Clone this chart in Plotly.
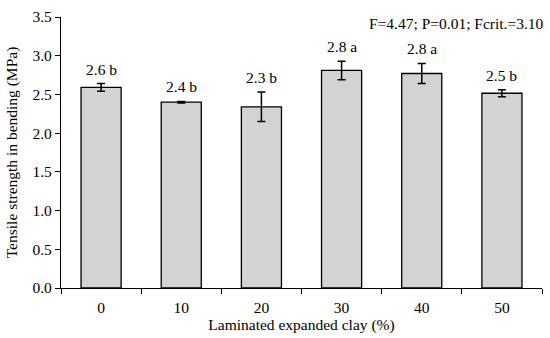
import plotly.graph_objects as go

categories = ["0", "10", "20", "30", "40", "50"]
means = [2.59, 2.40, 2.34, 2.81, 2.77, 2.515]
errors = [0.05, 0.01, 0.19, 0.12, 0.13, 0.045]
labels = ["2.6 b", "2.4 b", "2.3 b", "2.8 a", "2.8 a", "2.5 b"]
y_ticks = [0.0, 0.5, 1.0, 1.5, 2.0, 2.5, 3.0, 3.5]
stats_text = "F=4.47; P=0.01; Fcrit.=3.10"

FONT = "Liberation Serif"
FS = 15.5

fig = go.Figure()
fig.add_trace(go.Bar(
    x=categories, y=means,
    marker=dict(color="#d3d3d3", line=dict(color="black", width=1.3)),
    error_y=dict(type="data", array=errors, visible=True, color="black", thickness=1.5, width=4),
    width=0.5, hoverinfo="skip",
))

for i, (m, e, t) in enumerate(zip(means, errors, labels)):
    fig.add_annotation(x=i, y=m + e, text=t, showarrow=False, yanchor="bottom",
                       yshift=4, font=dict(family=FONT, size=FS, color="black"))

fig.add_annotation(xref="paper", yref="paper", x=1.0, y=1.0, xanchor="right", yanchor="middle",
                   xshift=4, yshift=-6, text=stats_text, showarrow=False,
                   font=dict(family=FONT, size=FS, color="black"))

fig.update_layout(
    width=550, height=338,
    margin=dict(l=61, r=8, t=12, b=50),
    plot_bgcolor="white", paper_bgcolor="white",
    showlegend=False,
    font=dict(family=FONT, size=FS, color="black"),
    xaxis=dict(
        type="category", range=[-0.5, len(categories) - 0.5],
        showline=True, linecolor="black", linewidth=1.2,
        ticks="outside", tickson="boundaries", ticklen=5, tickcolor="black", tickwidth=1.2,
        ticklabelstandoff=5,
        title=dict(text="Laminated expanded clay (%)", font=dict(size=FS), standoff=3),
        tickfont=dict(size=FS), showgrid=False, tickangle=0,
    ),
    yaxis=dict(
        range=[0, 3.5], tickvals=y_ticks, ticktext=[f"{v:.1f}" for v in y_ticks],
        showline=True, linecolor="black", linewidth=1.2,
        ticks="outside", ticklen=5, tickcolor="black", tickwidth=1.2,
        title=dict(text="Tensile strength in bending (MPa)", font=dict(size=FS), standoff=10),
        tickfont=dict(size=FS), showgrid=False, zeroline=False,
    ),
)

fig.write_html("out.html", config={"displayModeBar": False},
               post_script="document.body.style.margin='0';")
